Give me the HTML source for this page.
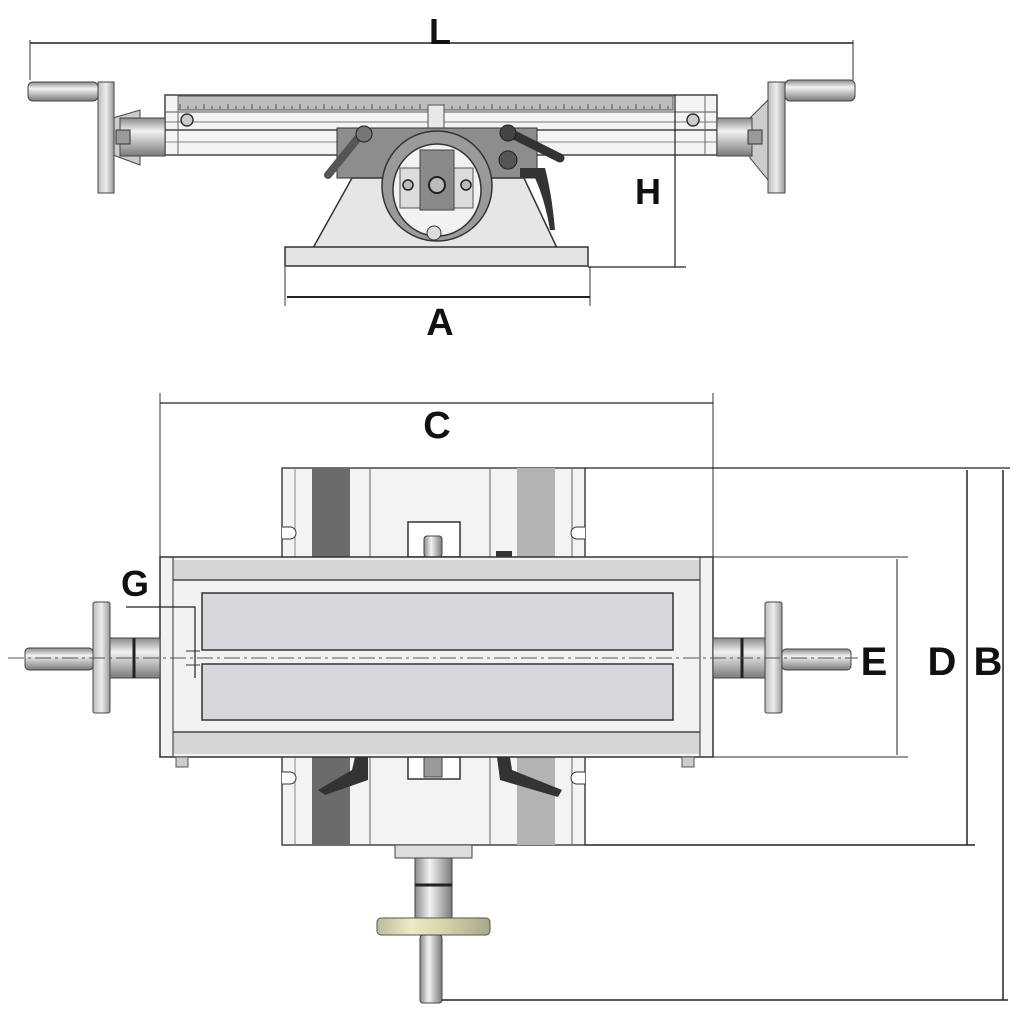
<!DOCTYPE html>
<html><head><meta charset="utf-8"><style>
html,body{margin:0;padding:0;background:#fff;}
svg{display:block;}
text{font-family:"Liberation Sans",sans-serif;font-weight:bold;fill:#111;}
</style></head><body>
<svg width="1022" height="1022" viewBox="0 0 1022 1022" xmlns="http://www.w3.org/2000/svg">
<defs>
<linearGradient id="cyl" x1="0" y1="0" x2="0" y2="1">
<stop offset="0" stop-color="#8a8a8a"/><stop offset="0.35" stop-color="#f2f2f2"/><stop offset="1" stop-color="#7a7a7a"/></linearGradient>
<linearGradient id="cylv" x1="0" y1="0" x2="1" y2="0">
<stop offset="0" stop-color="#8a8a8a"/><stop offset="0.4" stop-color="#f2f2f2"/><stop offset="1" stop-color="#7a7a7a"/></linearGradient>
<linearGradient id="wheel" x1="0" y1="0" x2="1" y2="0">
<stop offset="0" stop-color="#bbb"/><stop offset="0.5" stop-color="#eee"/><stop offset="1" stop-color="#999"/></linearGradient>
<linearGradient id="ywheel" x1="0" y1="0" x2="1" y2="0">
<stop offset="0" stop-color="#bdbb9a"/><stop offset="0.3" stop-color="#ecebc8"/><stop offset="0.6" stop-color="#d6d3a8"/><stop offset="1" stop-color="#a9a78a"/></linearGradient>
</defs>

<!-- ========== TOP VIEW ========== -->
<!-- L dimension -->
<line x1="30" y1="40" x2="30" y2="80" stroke="#333" stroke-width="1"/>
<line x1="853" y1="40" x2="853" y2="80" stroke="#333" stroke-width="1"/>
<line x1="30" y1="43" x2="853" y2="43" stroke="#222" stroke-width="1.5"/>
<text x="440" y="44" font-size="36" text-anchor="middle">L</text>

<!-- table bar -->
<rect x="165" y="95" width="552" height="60" fill="#f4f4f4" stroke="#444" stroke-width="1.5"/>
<rect x="178" y="96" width="495" height="14" fill="#bdbdbd" stroke="#555"/>
<g stroke="#333" stroke-width="0.8">
<path d="M180 104 v5 M188 106 v3 M196 106 v3 M204 104 v5 M212 106 v3 M220 106 v3 M228 104 v5 M236 106 v3 M244 106 v3 M252 104 v5 M260 106 v3 M268 106 v3 M276 104 v5 M284 106 v3 M292 106 v3 M300 104 v5 M308 106 v3 M316 106 v3 M324 104 v5 M332 106 v3 M340 106 v3 M348 104 v5 M356 106 v3 M364 106 v3 M372 104 v5 M380 106 v3 M388 106 v3 M396 104 v5 M404 106 v3 M412 106 v3 M420 104 v5 M428 106 v3 M436 106 v3 M444 104 v5 M452 106 v3 M460 106 v3 M468 104 v5 M476 106 v3 M484 106 v3 M492 104 v5 M500 106 v3 M508 106 v3 M516 104 v5 M524 106 v3 M532 106 v3 M540 104 v5 M548 106 v3 M556 106 v3 M564 104 v5 M572 106 v3 M580 106 v3 M588 104 v5 M596 106 v3 M604 106 v3 M612 104 v5 M620 106 v3 M628 106 v3 M636 104 v5 M644 106 v3 M652 106 v3 M660 104 v5 M668 106 v3"/>
</g>
<line x1="165" y1="112" x2="717" y2="112" stroke="#555"/>
<line x1="165" y1="122" x2="717" y2="122" stroke="#777"/>
<line x1="165" y1="130" x2="717" y2="130" stroke="#444" stroke-width="1.5"/>
<line x1="165" y1="142" x2="717" y2="142" stroke="#888"/>
<line x1="178" y1="95" x2="178" y2="155" stroke="#666"/>
<line x1="705" y1="95" x2="705" y2="155" stroke="#666"/>
<circle cx="187" cy="120" r="6" fill="#ccc" stroke="#333" stroke-width="1.5"/>
<circle cx="693" cy="120" r="6" fill="#ccc" stroke="#333" stroke-width="1.5"/>
<!-- scale pointer -->
<rect x="428" y="105" width="16" height="25" fill="#e8e8e8" stroke="#555"/>

<!-- saddle -->
<rect x="337" y="128" width="200" height="50" fill="#8d8d8d" stroke="#333"/>
<!-- base -->
<polygon points="352,178 524,178 557,248 313,248" fill="#e6e6e6" stroke="#333" stroke-width="1.5"/>
<rect x="285" y="247" width="303" height="19" fill="#e3e3e3" stroke="#333" stroke-width="1.5"/>
<!-- levers -->
<line x1="362" y1="133" x2="328" y2="175" stroke="#555" stroke-width="8" stroke-linecap="round"/>
<circle cx="364" cy="134" r="8" fill="#777" stroke="#222"/>
<line x1="510" y1="133" x2="560" y2="158" stroke="#333" stroke-width="9" stroke-linecap="round"/>
<circle cx="508" cy="133" r="8" fill="#444" stroke="#222"/>
<circle cx="508" cy="160" r="9" fill="#555" stroke="#222"/>
<path d="M520 168 L545 168 Q552 195 555 230 L550 230 Q545 200 535 178 L520 178 Z" fill="#333"/>
<!-- ring -->
<circle cx="437" cy="186" r="55" fill="#9a9a9a" stroke="#333" stroke-width="1.5"/>
<ellipse cx="437" cy="190" rx="44" ry="46" fill="#f2f2f2" stroke="#333" stroke-width="1.5"/>
<rect x="400" y="168" width="73" height="40" fill="#dcdcdc" stroke="#555"/>
<rect x="420" y="150" width="34" height="60" fill="#8a8a8a" stroke="#444"/>
<circle cx="437" cy="185" r="8" fill="#bbb" stroke="#222" stroke-width="2"/>
<circle cx="408" cy="185" r="5" fill="#bbb" stroke="#222" stroke-width="1.5"/>
<circle cx="466" cy="185" r="5" fill="#bbb" stroke="#222" stroke-width="1.5"/>
<circle cx="434" cy="233" r="7" fill="#ddd" stroke="#333"/>

<!-- left crank -->
<polygon points="113,118 140,110 140,165 113,155" fill="#ccc" stroke="#444"/>
<rect x="120" y="118" width="45" height="38" fill="url(#cyl)" stroke="#444"/>
<rect x="116" y="130" width="14" height="14" fill="#999" stroke="#333"/>
<rect x="98" y="82" width="16" height="111" fill="url(#wheel)" stroke="#444"/>
<rect x="28" y="82" width="70" height="19" rx="5" fill="url(#cyl)" stroke="#444"/>
<!-- right crank -->
<polygon points="768,100 750,118 750,158 768,180" fill="#ccc" stroke="#444"/>
<rect x="717" y="118" width="35" height="38" fill="url(#cyl)" stroke="#444"/>
<rect x="748" y="130" width="14" height="14" fill="#999" stroke="#333"/>
<rect x="768" y="82" width="17" height="111" fill="url(#wheel)" stroke="#444"/>
<rect x="785" y="80" width="70" height="21" rx="5" fill="url(#cyl)" stroke="#444"/>

<!-- H dimension -->
<line x1="675" y1="95" x2="675" y2="267" stroke="#222" stroke-width="1.2"/>
<line x1="588" y1="267" x2="686" y2="267" stroke="#222" stroke-width="1.2"/>
<text x="648" y="204" font-size="36" text-anchor="middle">H</text>
<!-- A dimension -->
<line x1="285" y1="267" x2="285" y2="306" stroke="#333"/>
<line x1="590" y1="267" x2="590" y2="306" stroke="#333"/>
<line x1="287" y1="297" x2="590" y2="297" stroke="#222" stroke-width="2"/>
<text x="440" y="335" font-size="38" text-anchor="middle">A</text>

<!-- ========== BOTTOM VIEW ========== -->
<!-- C dimension -->
<line x1="160" y1="393" x2="160" y2="560" stroke="#333"/>
<line x1="713" y1="393" x2="713" y2="560" stroke="#333"/>
<line x1="160" y1="403" x2="713" y2="403" stroke="#222" stroke-width="1.2"/>
<text x="437" y="438" font-size="38" text-anchor="middle">C</text>

<!-- saddle -->
<rect x="282" y="468" width="303" height="377" fill="#f3f3f3" stroke="#444" stroke-width="1.5"/>
<rect x="312" y="468" width="38" height="377" fill="#6b6b6b"/>
<rect x="517" y="468" width="38" height="377" fill="#b3b3b3"/>
<line x1="370" y1="468" x2="370" y2="845" stroke="#666"/>
<line x1="490" y1="468" x2="490" y2="845" stroke="#666"/>
<line x1="572" y1="468" x2="572" y2="845" stroke="#666"/>
<line x1="295" y1="468" x2="295" y2="845" stroke="#888"/>
<path d="M282 527 h8 a6 6 0 0 1 0 12 h-8" fill="#fff" stroke="#333"/>
<path d="M585 527 h-8 a6 6 0 0 0 0 12 h8" fill="#fff" stroke="#333"/>
<path d="M282 772 h8 a6 6 0 0 1 0 12 h-8" fill="#fff" stroke="#333"/>
<path d="M585 772 h-8 a6 6 0 0 0 0 12 h8" fill="#fff" stroke="#333"/>
<rect x="408" y="522" width="52" height="35" fill="#fff" stroke="#333" stroke-width="1.5"/>
<rect x="424" y="536" width="18" height="21" rx="3" fill="url(#cylv)" stroke="#444"/>
<rect x="496" y="551" width="16" height="6" fill="#333"/>
<rect x="408" y="757" width="52" height="22" fill="#fff" stroke="#333" stroke-width="1.5"/>
<rect x="424" y="757" width="18" height="20" fill="#999" stroke="#444"/>
<!-- lower levers -->
<path d="M355 757 L368 757 L368 780 L325 795 L318 790 L352 770 Z" fill="#333"/>
<path d="M497 757 L510 757 L512 770 L562 790 L558 797 L500 780 Z" fill="#333"/>

<!-- table -->
<rect x="160" y="557" width="553" height="200" fill="#f2f2f2" stroke="#333" stroke-width="1.5"/>
<rect x="173" y="560" width="527" height="20" fill="#d6d6d6"/>
<rect x="173" y="732" width="527" height="22" fill="#d6d6d6"/>
<line x1="173" y1="580" x2="700" y2="580" stroke="#444" stroke-width="1.5"/>
<line x1="173" y1="732" x2="700" y2="732" stroke="#444" stroke-width="1.5"/>
<line x1="173" y1="557" x2="173" y2="757" stroke="#333"/>
<line x1="700" y1="557" x2="700" y2="757" stroke="#333"/>
<rect x="202" y="593" width="471" height="57" fill="#d9d7dc" stroke="#333" stroke-width="1.5"/>
<rect x="202" y="664" width="471" height="56" fill="#d9d7dc" stroke="#333" stroke-width="1.5"/>
<rect x="176" y="757" width="12" height="10" fill="#ccc" stroke="#555"/>
<rect x="682" y="757" width="12" height="10" fill="#ccc" stroke="#555"/>

<!-- left handwheel -->
<rect x="108" y="638" width="52" height="40" fill="url(#cyl)" stroke="#444"/>
<line x1="134" y1="638" x2="134" y2="678" stroke="#222" stroke-width="3"/>
<rect x="93" y="602" width="17" height="111" rx="2" fill="url(#wheel)" stroke="#444"/>
<rect x="25" y="648" width="68" height="22" rx="4" fill="url(#cyl)" stroke="#444"/>
<!-- right handwheel -->
<rect x="713" y="638" width="52" height="40" fill="url(#cyl)" stroke="#444"/>
<line x1="742" y1="638" x2="742" y2="678" stroke="#222" stroke-width="3"/>
<rect x="765" y="602" width="17" height="111" rx="2" fill="url(#wheel)" stroke="#444"/>
<rect x="782" y="649" width="69" height="21" rx="4" fill="url(#cyl)" stroke="#444"/>

<!-- center line -->
<line x1="8" y1="658" x2="858" y2="658" stroke="#555" stroke-width="1" stroke-dasharray="16,4,3,4"/>

<!-- G -->
<text x="135" y="596" font-size="36" text-anchor="middle">G</text>
<polyline points="126,607 195,607 195,678" fill="none" stroke="#222" stroke-width="1.2"/>
<line x1="186" y1="651" x2="200" y2="651" stroke="#333"/>
<line x1="186" y1="665" x2="200" y2="665" stroke="#333"/>

<!-- bottom handle -->
<rect x="395" y="845" width="77" height="13" fill="#ddd" stroke="#444"/>
<rect x="415" y="858" width="37" height="60" fill="url(#cylv)" stroke="#444"/>
<line x1="415" y1="885" x2="452" y2="885" stroke="#222" stroke-width="3"/>
<rect x="377" y="918" width="113" height="17" rx="4" fill="url(#ywheel)" stroke="#555"/>
<rect x="420" y="935" width="22" height="68" rx="3" fill="url(#cylv)" stroke="#444"/>

<!-- D, B dimensions -->
<line x1="713" y1="557" x2="908" y2="557" stroke="#333"/>
<line x1="713" y1="757" x2="908" y2="757" stroke="#333"/>
<line x1="897" y1="559" x2="897" y2="755" stroke="#222"/>
<line x1="585" y1="468" x2="1010" y2="468" stroke="#222" stroke-width="1.2"/>
<line x1="585" y1="845" x2="975" y2="845" stroke="#222" stroke-width="1.5"/>
<line x1="967" y1="470" x2="967" y2="845" stroke="#222" stroke-width="1.5"/>
<line x1="442" y1="1000" x2="1008" y2="1000" stroke="#222" stroke-width="1.5"/>
<line x1="1003" y1="470" x2="1003" y2="1000" stroke="#222" stroke-width="1.5"/>
<text x="874" y="675" font-size="40" text-anchor="middle">E</text>
<text x="942" y="675" font-size="40" text-anchor="middle">D</text>
<text x="988" y="675" font-size="40" text-anchor="middle">B</text>
</svg>
</body></html>
